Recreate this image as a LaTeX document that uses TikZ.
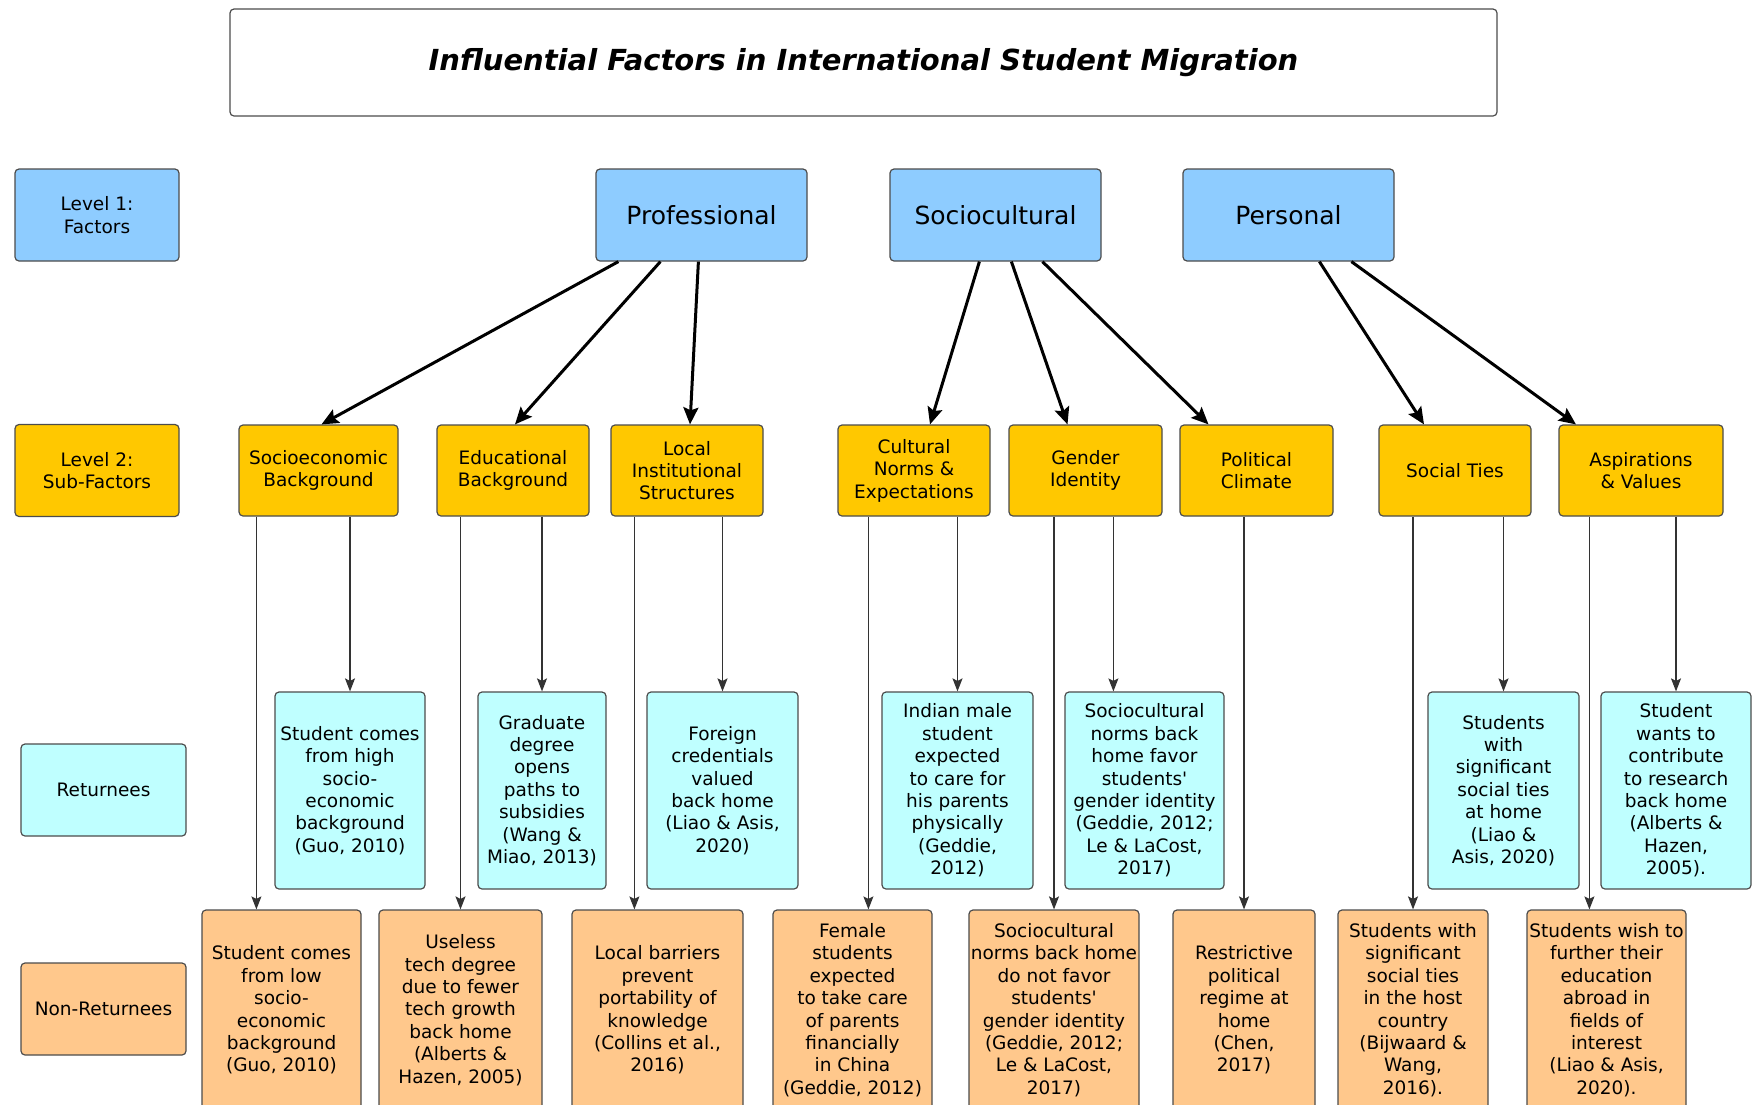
\documentclass[tikz,border=0pt]{standalone}
\usepackage{fontspec}
\setmainfont{DejaVu Sans}
\usepackage{xcolor}
\usetikzlibrary{arrows.meta}
\definecolor{factorblue}{HTML}{8ECCFF}
\definecolor{subgold}{HTML}{FFC800}
\definecolor{retcyan}{HTML}{BFFFFF}
\definecolor{nonretpeach}{HTML}{FFC88C}

\begin{document}
\begin{tikzpicture}[x=1pt,y=-1pt,
  box/.style={draw=black!70,line width=1.2pt,rounded corners=4pt,align=center,inner sep=0pt,
    font=\fontsize{18.5}{22.4}\selectfont},
  factor/.style={box,fill=factorblue,minimum width=211pt,minimum height=92pt,
    font=\fontsize{25}{29}\selectfont},
  subfactor/.style={box,fill=subgold,minimum height=91pt},
  returnee/.style={box,fill=retcyan,minimum height=197pt},
  nonreturnee/.style={box,fill=nonretpeach,minimum height=200pt},
  rowlabel/.style={box,minimum width=165pt,minimum height=92pt},
  big/.style={line width=3pt,-{Stealth[length=17pt,width=15pt,inset=3pt]}},
  down/.style={draw=black!80,line width=1.2pt,-{Stealth[length=13pt,width=10pt,inset=2.5pt]}}]
\useasboundingbox (0,0) rectangle (1754,1104);
\clip (0,0) rectangle (1754,1104);

\node[box,minimum width=1267pt,minimum height=107pt,font=\fontsize{29}{34}\selectfont\bfseries\itshape] (title) at (863.5,62.5) {Influential Factors in International Student Migration};

\node[rowlabel,fill=factorblue,minimum width=164pt] (lvlone) at (97,215) {Level 1:\\Factors};
\node[factor] (prof) at (701.5,215) {Professional};
\node[factor] (soc) at (995.5,215) {Sociocultural};
\node[factor] (pers) at (1288.5,215) {Personal};

\node[rowlabel,fill=subgold,minimum width=164pt] (lvltwo) at (97,470.5) {Level 2:\\Sub-Factors};
\node[subfactor,minimum width=159pt] (sub1) at (318.5,470.5) {Socioeconomic\\Background};
\node[subfactor,minimum width=152pt] (sub2) at (513,470.5) {Educational\\Background};
\node[subfactor,minimum width=152pt] (sub3) at (687,470.5) {Local\\Institutional\\Structures};
\node[subfactor,minimum width=152pt] (sub4) at (914,470.5) {Cultural\\Norms \&\\Expectations};
\node[subfactor,minimum width=153pt] (sub5) at (1085.5,470.5) {Gender\\Identity};
\node[subfactor,minimum width=153pt] (sub6) at (1256.5,470.5) {Political\\Climate};
\node[subfactor,minimum width=152pt] (sub7) at (1455,470.5) {Social Ties};
\node[subfactor,minimum width=164pt] (sub8) at (1641,470.5) {Aspirations\\\& Values};

\node[rowlabel,fill=retcyan] (retlabel) at (103.5,790) {Returnees};
\node[returnee,minimum width=150pt] (ret1) at (350,790.5) {Student comes\\from high\\socio-\\economic\\background\\(Guo, 2010)};
\node[returnee,minimum width=128pt] (ret2) at (542,790.5) {Graduate\\degree\\opens\\paths to\\subsidies\\(Wang \&\\Miao, 2013)};
\node[returnee,minimum width=151pt] (ret3) at (722.5,790.5) {Foreign\\credentials\\valued\\back home\\(Liao \& Asis,\\2020)};
\node[returnee,minimum width=151pt] (ret4) at (957.5,790.5) {Indian male\\student\\expected\\to care for\\his parents\\physically\\(Geddie,\\2012)};
\node[returnee,minimum width=159pt] (ret5) at (1144.5,790.5) {Sociocultural\\norms back\\home favor\\students\textquotesingle\\gender identity\\(Geddie, 2012;\\Le \& LaCost,\\2017)};
\node[returnee,minimum width=151pt] (ret6) at (1503.5,790.5) {Students\\with\\significant\\social ties\\at home\\(Liao \&\\Asis, 2020)};
\node[returnee,minimum width=150pt] (ret7) at (1676,790.5) {Student\\wants to\\contribute\\to research\\back home\\(Alberts \&\\Hazen,\\2005).};

\node[rowlabel,fill=nonretpeach] (nonretlabel) at (103.5,1009) {Non-Returnees};
\node[nonreturnee,minimum width=159pt] (nr1) at (281.5,1010) {Student comes\\from low\\socio-\\economic\\background\\(Guo, 2010)};
\node[nonreturnee,minimum width=163pt] (nr2) at (460.5,1010) {Useless\\tech degree\\due to fewer\\tech growth\\back home\\(Alberts \&\\Hazen, 2005)};
\node[nonreturnee,minimum width=171pt] (nr3) at (657.5,1010) {Local barriers\\prevent\\portability of\\knowledge\\(Collins et al.,\\2016)};
\node[nonreturnee,minimum width=159pt] (nr4) at (852.5,1010) {Female\\students\\expected\\to take care\\of parents\\financially\\in China\\(Geddie, 2012)};
\node[nonreturnee,minimum width=170pt] (nr5) at (1054,1010) {Sociocultural\\norms back home\\do not favor\\students\textquotesingle\\gender identity\\(Geddie, 2012;\\Le \& LaCost,\\2017)};
\node[nonreturnee,minimum width=142pt] (nr6) at (1244,1010) {Restrictive\\political\\regime at\\home\\(Chen,\\2017)};
\node[nonreturnee,minimum width=150pt] (nr7) at (1413,1010) {Students with\\significant\\social ties\\in the host\\country\\(Bijwaard \&\\Wang,\\2016).};
\node[nonreturnee,minimum width=159pt] (nr8) at (1606.5,1010) {Students wish to\\further their\\education\\abroad in\\fields of\\interest\\(Liao \& Asis,\\2020).};

\draw[big] ([xshift=23pt]prof.south west) -- ([xshift=3pt]sub1.north);
\draw[big] ([xshift=65pt]prof.south west) -- ([xshift=2pt]sub2.north);
\draw[big] ([xshift=103pt]prof.south west) -- ([xshift=3pt]sub3.north);
\draw[big] ([xshift=90pt]soc.south west) -- ([xshift=16pt]sub4.north);
\draw[big] ([xshift=122pt]soc.south west) -- ([xshift=-18pt]sub5.north);
\draw[big] ([xshift=153pt]soc.south west) -- ([xshift=-48pt]sub6.north);
\draw[big] ([xshift=137pt]pers.south west) -- ([xshift=-31pt]sub7.north);
\draw[big] ([xshift=169pt]pers.south west) -- ([xshift=-65pt]sub8.north);

\draw[down] ([xshift=18pt]sub1.south west) -- ([xshift=18pt]sub1.south west |- nr1.north);
\draw[down] (ret1.north |- sub1.south) -- (ret1.north);
\draw[down] (nr2.north |- sub2.south) -- (nr2.north);
\draw[down] (ret2.north |- sub2.south) -- (ret2.north);
\draw[down] ([xshift=24pt]sub3.south west) -- ([xshift=24pt]sub3.south west |- nr3.north);
\draw[down] (ret3.north |- sub3.south) -- (ret3.north);
\draw[down] ([xshift=31pt]sub4.south west) -- ([xshift=31pt]sub4.south west |- nr4.north);
\draw[down] (ret4.north |- sub4.south) -- (ret4.north);
\draw[down] (nr5.north |- sub5.south) -- (nr5.north);
\draw[down] ([xshift=105pt]sub5.south west) -- ([xshift=105pt]sub5.south west |- ret5.north);
\draw[down] (nr6.north |- sub6.south) -- (nr6.north);
\draw[down] (nr7.north |- sub7.south) -- (nr7.north);
\draw[down] (ret6.north |- sub7.south) -- (ret6.north);
\draw[down] ([xshift=31pt]sub8.south west) -- ([xshift=31pt]sub8.south west |- nr8.north);
\draw[down] (ret7.north |- sub8.south) -- (ret7.north);

\end{tikzpicture}
\end{document}
